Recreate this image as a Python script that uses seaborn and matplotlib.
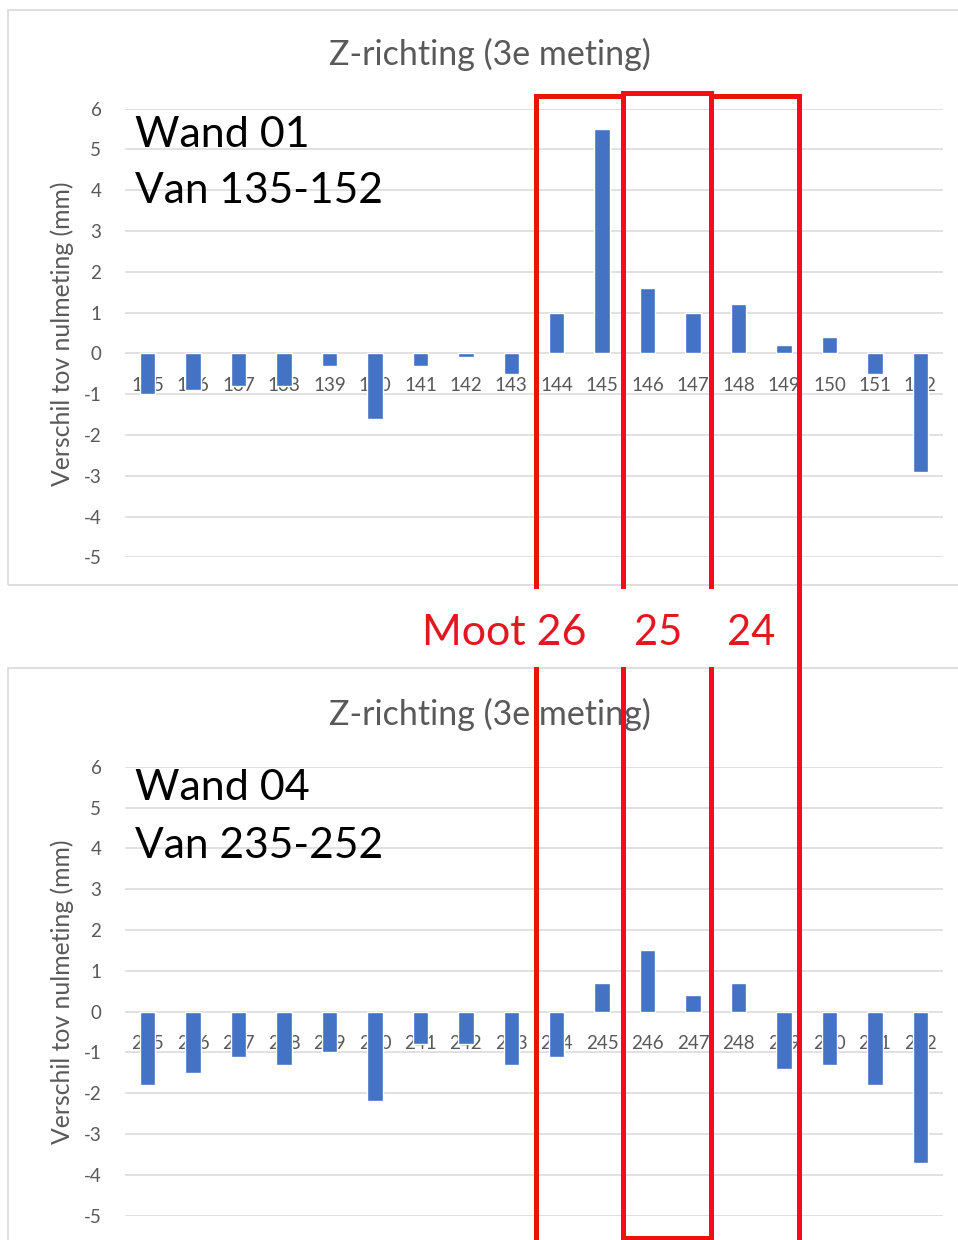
import matplotlib
matplotlib.use("Agg")
import matplotlib.pyplot as plt
import seaborn as sns
import pandas as pd
from matplotlib.patches import Rectangle

# ---------------- data ----------------
wand01_labels = ["135", "136", "137", "138", "139", "140", "141", "142", "143",
                 "144", "145", "146", "147", "148", "149", "150", "151", "152"]
wand01_values = [-1.0, -0.9, -0.8, -0.8, -0.3, -1.6, -0.3, -0.1, -0.5,
                 1.0, 5.5, 1.6, 1.0, 1.2, 0.2, 0.4, -0.5, -2.9]

wand04_labels = ["235", "236", "237", "238", "239", "240", "241", "242", "243",
                 "244", "245", "246", "247", "248", "249", "250", "251", "252"]
wand04_values = [-1.8, -1.5, -1.1, -1.3, -1.0, -2.2, -0.8, -0.8, -1.3,
                 -1.1, 0.7, 1.5, 0.4, 0.7, -1.4, -1.3, -1.8, -3.7]

y_ticks = [-5, -4, -3, -2, -1, 0, 1, 2, 3, 4, 5, 6]
chart_title = "Z-richting (3e meting)"
y_label = "Verschil tov nulmeting (mm)"
wand01_text = ["Wand 01", "Van 135-152"]
wand04_text = ["Wand 04", "Van 235-252"]
moot_labels = ["Moot 26", "25", "24"]

# ---------------- style ----------------
sns.set_theme(style="white")
plt.rcParams["font.family"] = ["Lato", "DejaVu Sans"]
plt.rcParams["axes.unicode_minus"] = False

BLUE = "#4472C4"
GRID = "#d9d9d9"
GRAY_TXT = "#595959"
RED = "#ee1111"
RED_TXT = "#e3171f"

W, H = 958, 1240
fig = plt.figure(figsize=(W / 100, H / 100), dpi=100)
fig.patch.set_facecolor("white")


def fx(px):
    return px / W


def fy(py):
    return 1 - py / H


def make_chart(top_px, bottom_px, labels, values):
    ax = fig.add_axes([fx(125), fy(bottom_px), fx(943) - fx(125), (bottom_px - top_px) / H])
    df = pd.DataFrame({"punt": labels, "waarde": values})
    sns.barplot(data=df, x="punt", y="waarde", ax=ax, color=BLUE, saturation=1,
                width=0.34, errorbar=None)
    ax.set_facecolor("none")
    ax.set_axisbelow(True)
    ax.set_xlim(-0.5, len(labels) - 0.5)
    ax.set_ylim(-5, 6)
    ax.set_yticks(y_ticks)
    ax.grid(True, axis="y", color=GRID, linewidth=1.1)
    ax.grid(False, axis="x")
    for s in ax.spines.values():
        s.set_visible(False)
    ax.spines["bottom"].set_position(("data", 0))
    ax.tick_params(axis="x", length=0, pad=17, labelsize=13.5, labelcolor=GRAY_TXT)
    ax.tick_params(axis="y", length=0, pad=17, labelsize=13.5, labelcolor=GRAY_TXT)
    ax.set_xlabel("")
    ax.set_ylabel("")
    return ax


ax1 = make_chart(108.5, 557.3, wand01_labels, wand01_values)
ax2 = make_chart(766.7, 1215.7, wand04_labels, wand04_values)

# panel borders
fig.add_artist(Rectangle((fx(8), fy(585)), fx(962) - fx(8), (585 - 10) / H,
                         transform=fig.transFigure, fill=False, ec=GRID, lw=1.2, zorder=-1))
fig.add_artist(Rectangle((fx(8), fy(1250)), fx(962) - fx(8), (1250 - 668) / H,
                         transform=fig.transFigure, fill=False, ec=GRID, lw=1.2, zorder=-1))

# titles, axis labels, annotations
for base, yl_c, txt, wy in [(65, 334, wand01_text, (147, 203)),
                            (725, 992, wand04_text, (800, 858))]:
    fig.text(fx(490), fy(base), chart_title, ha="center", va="baseline",
             fontsize=24.5, color=GRAY_TXT)
    fig.text(fx(62), fy(yl_c), y_label, rotation=90, ha="center", va="center",
             fontsize=17.8, color=GRAY_TXT)
    fig.text(fx(135), fy(wy[0]), txt[0], ha="left", va="baseline", fontsize=31, color="black")
    fig.text(fx(135), fy(wy[1]), txt[1], ha="left", va="baseline", fontsize=30.6, color="black")

# red "moot" boxes
LW = 3.6
for x0, x1, y0, y1 in [(536, 623, 96, 1260), (623, 711, 93, 1238), (711, 799, 96, 1260)]:
    fig.add_artist(Rectangle((fx(x0), fy(y1)), fx(x1) - fx(x0), (y1 - y0) / H,
                             transform=fig.transFigure, fill=False, ec=RED, lw=LW,
                             zorder=5, clip_on=False))

# white label strip between charts
fig.add_artist(Rectangle((fx(405), fy(667)), fx(796) - fx(405), (667 - 589) / H,
                         transform=fig.transFigure, fc="white", ec="none", zorder=6))
for xl, t, fs in zip([422, 634, 727], moot_labels, [31, 30, 30]):
    fig.text(fx(xl), fy(645), t, ha="left", va="baseline", fontsize=fs,
             color=RED_TXT, zorder=7)

fig.savefig("out.png", dpi=100)
